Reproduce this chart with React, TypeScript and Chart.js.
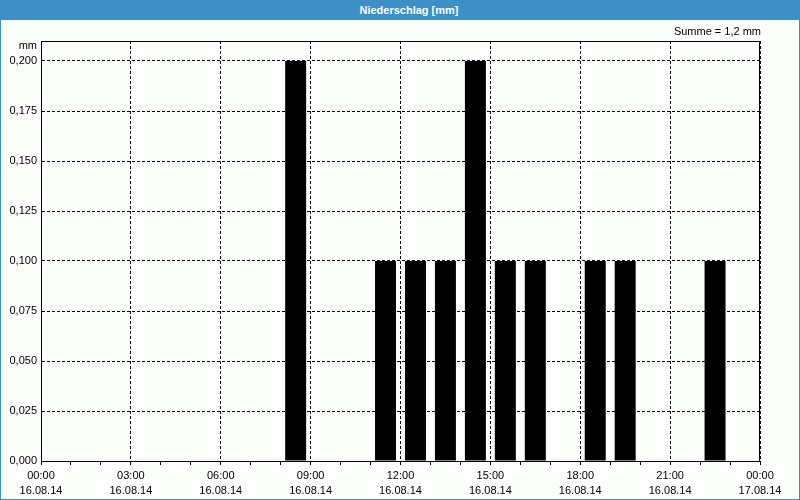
import React, { useEffect, useRef } from "react";
import { Chart, registerables } from "chart.js";

Chart.register(...registerables);

// Hourly precipitation (start hour of the interval) and amount in mm
const hourStarts = [8, 11, 12, 13, 14, 15, 16, 18, 19, 22];
const precipitation = [0.2, 0.1, 0.1, 0.1, 0.2, 0.1, 0.1, 0.1, 0.1, 0.1];

// X axis tick labels every 3 hours
const tickTimes = ["00:00", "03:00", "06:00", "09:00", "12:00", "15:00", "18:00", "21:00", "00:00"];
const tickDates = ["16.08.14", "16.08.14", "16.08.14", "16.08.14", "16.08.14", "16.08.14", "16.08.14", "16.08.14", "17.08.14"];

const titleText = "Niederschlag [mm]";
const unitText = "mm";
const sumText = "Summe = 1,2 mm";

const FONT = "'Liberation Sans', Arial, sans-serif";
const BLUE = "#3d8fc7";

export default function App() {
  const canvasRef = useRef<HTMLCanvasElement | null>(null);

  useEffect(() => {
    document.body.style.margin = "0";
    const canvas = canvasRef.current;
    if (!canvas) return;

    const overlay = {
      id: "overlay",
      afterDraw(chart: any) {
        const { ctx, chartArea } = chart;
        ctx.save();
        ctx.strokeStyle = "#000";
        ctx.lineWidth = 1;
        ctx.setLineDash([]);
        ctx.strokeRect(
          chartArea.left + 0.5,
          chartArea.top + 0.5,
          chartArea.right - chartArea.left - 1,
          chartArea.bottom - chartArea.top
        );
        ctx.fillStyle = "#000";
        ctx.font = `11px ${FONT}`;
        ctx.textBaseline = "middle";
        ctx.textAlign = "right";
        ctx.fillText(unitText, chartArea.left - 4, chartArea.top + 5);
        ctx.fillText(sumText, chartArea.right + 1, chartArea.top - 9);
        ctx.restore();
      },
    };

    const chart = new Chart(canvas, {
      type: "bar",
      data: {
        datasets: [
          {
            data: hourStarts.map((h, i) => ({ x: h + 0.5, y: precipitation[i] })),
            backgroundColor: "#000",
            borderWidth: 0,
            barPercentage: 0.7,
            categoryPercentage: 1.0,
          },
        ],
      },
      options: {
        responsive: false,
        animation: false,
        devicePixelRatio: 1,
        layout: { padding: { top: 21, right: 39, left: 0, bottom: 0 } },
        plugins: {
          legend: { display: false },
          tooltip: { enabled: false },
          title: { display: false },
        },
        scales: {
          x: {
            type: "linear",
            min: 0,
            max: 24,
            offset: false,
            grid: {
              offset: false,
              color: (ctx: any) =>
                ctx.tick && ctx.tick.value % 3 === 0 ? "#000" : "rgba(0,0,0,0)",
              tickColor: "#000",
              tickLength: 4,
              lineWidth: 1,
            },
            border: { display: true, color: "#000", width: 1, dash: [3, 2] },
            ticks: {
              stepSize: 1,
              autoSkip: false,
              maxRotation: 0,
              minRotation: 0,
              padding: 3,
              color: "#000",
              font: { family: FONT, size: 11, lineHeight: 15 / 11 },
              callback: (v: any) => {
                const n = Number(v);
                if (Math.abs(n % 3) > 1e-9) return "";
                const idx = Math.round(n / 3);
                return [tickTimes[idx], tickDates[idx]];
              },
            },
            afterFit: (scale: any) => {
              scale.height = 38;
            },
          },
          y: {
            type: "linear",
            min: 0,
            max: 0.21,
            grid: {
              color: "#000",
              drawTicks: false,
              lineWidth: 1,
            },
            border: { display: true, color: "#000", width: 1, dash: [3, 2] },
            ticks: {
              stepSize: 0.025,
              padding: 4,
              color: "#000",
              font: { family: FONT, size: 11 },
              callback: (v: any) => Number(v).toFixed(3).replace(".", ","),
            },
            afterBuildTicks: (scale: any) => {
              scale.ticks = scale.ticks.filter((t: any) => {
                const r = t.value / 0.025;
                return Math.abs(r - Math.round(r)) < 1e-6;
              });
            },
            afterFit: (scale: any) => {
              scale.width = 40;
            },
          },
        },
      } as any,
      plugins: [overlay],
    });

    return () => chart.destroy();
  }, []);

  return (
    <div
      style={{
        position: "relative",
        width: 800,
        height: 500,
        boxSizing: "border-box",
        border: `1px solid ${BLUE}`,
        background: "#fcfefc",
        overflow: "hidden",
      }}
    >
      <div
        style={{
          height: 19,
          background: BLUE,
          color: "#fff",
          fontFamily: FONT,
          fontWeight: "bold",
          fontSize: 11,
          lineHeight: "18px",
          textAlign: "center",
          paddingLeft: 18,
        }}
      >
        {titleText}
      </div>
      <canvas ref={canvasRef} width={798} height={479} style={{ display: "block" }} />
    </div>
  );
}
